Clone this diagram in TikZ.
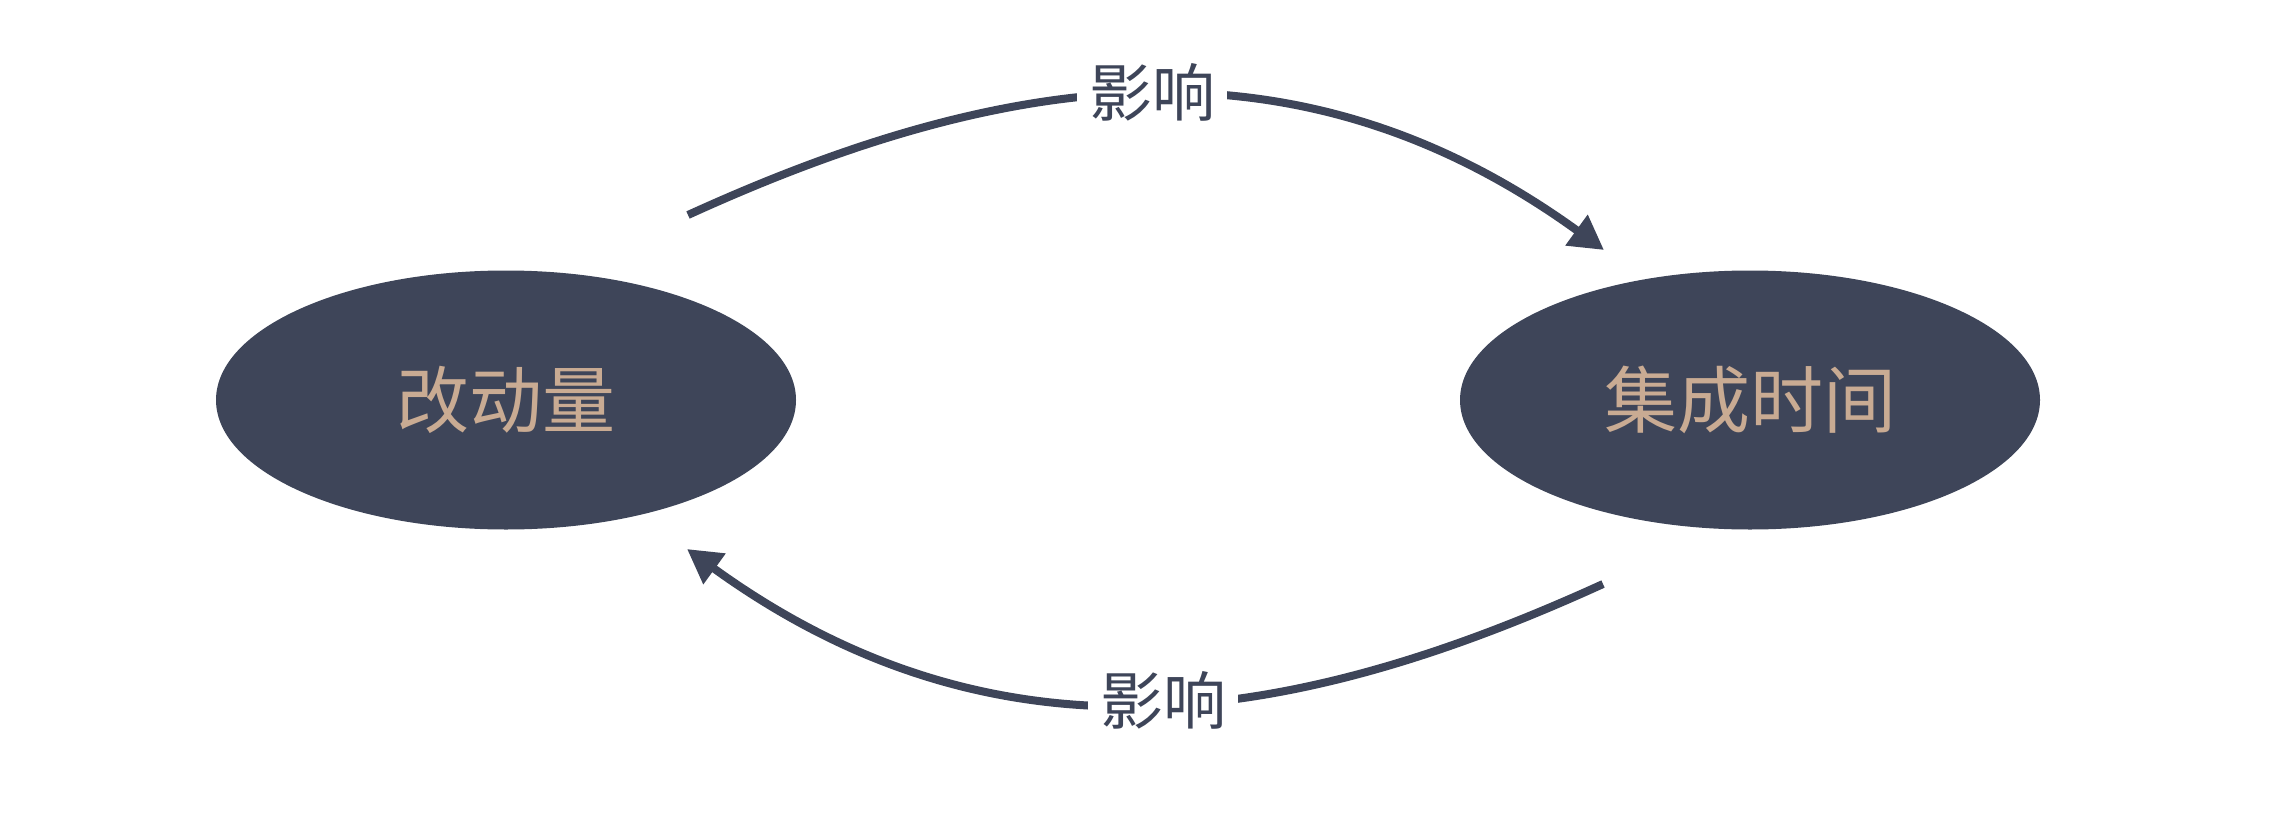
\documentclass[tikz,border=0pt]{standalone}
\usepackage{fontspec}
\newfontfamily\cjk{Noto Sans CJK SC}
\usetikzlibrary{shapes.geometric,arrows.meta}
\definecolor{slate}{HTML}{3E4559}
\definecolor{tan}{HTML}{C9AB93}
\tikzset{
  blob/.style={ellipse, fill=slate, draw=none, minimum width=580pt, minimum height=259pt, inner sep=0pt,
    text=tan, font=\cjk\fontsize{73}{80}\selectfont},
  conn/.style={draw=slate, line width=8pt, -{Triangle[length=34pt,width=36pt]}},
  lab/.style={fill=white, inner sep=12pt, text=slate, font=\cjk\fontsize{63}{70}\selectfont}
}
\begin{document}
\begin{tikzpicture}[x=1pt,y=-1pt]
\useasboundingbox (0,0) rectangle (2284,816);
\node[blob] (gdl) at (506,400) {改动量};
\node[blob] (jcsj) at (1750,400) {集成时间};
\coordinate (s1) at (688,215);
\coordinate (e1) at (1604,250);
\coordinate (s2) at (1603,584);
\coordinate (e2) at (687,549);
\draw[conn] (s1) .. controls (1010,68) and (1300,30) .. (e1);
\draw[conn] (s2) .. controls (1281,731) and (991,769) .. (e2);
\node[lab] (l1) at (1152,92) {影响};
\node[lab] (l2) at (1163,700) {影响};
\end{tikzpicture}
\end{document}
